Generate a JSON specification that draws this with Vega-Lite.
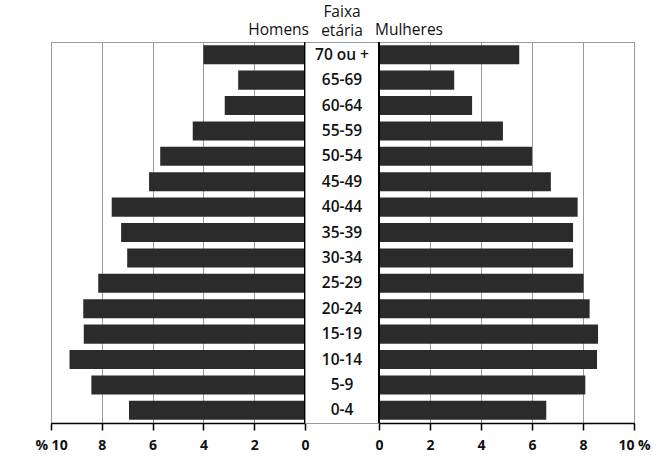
{
  "$schema": "https://vega.github.io/schema/vega-lite/v6.json",
  "background": "white",
  "padding": {"left": 34, "top": 4, "right": 5, "bottom": 5},
  "spacing": 0,
  "bounds": "flush",
  "data": {
    "values": [
      {"faixa": "70 ou +", "homens": 4.0, "mulheres": 5.5},
      {"faixa": "65-69", "homens": 2.63, "mulheres": 2.95},
      {"faixa": "60-64", "homens": 3.16, "mulheres": 3.65},
      {"faixa": "55-59", "homens": 4.42, "mulheres": 4.86},
      {"faixa": "50-54", "homens": 5.7, "mulheres": 6.0},
      {"faixa": "45-49", "homens": 6.14, "mulheres": 6.74},
      {"faixa": "40-44", "homens": 7.61, "mulheres": 7.79},
      {"faixa": "35-39", "homens": 7.24, "mulheres": 7.61},
      {"faixa": "30-34", "homens": 7.0, "mulheres": 7.61},
      {"faixa": "25-29", "homens": 8.14, "mulheres": 8.02},
      {"faixa": "20-24", "homens": 8.73, "mulheres": 8.26},
      {"faixa": "15-19", "homens": 8.71, "mulheres": 8.59},
      {"faixa": "10-14", "homens": 9.27, "mulheres": 8.55},
      {"faixa": "5-9", "homens": 8.41, "mulheres": 8.09},
      {"faixa": "0-4", "homens": 6.93, "mulheres": 6.56}
    ]
  },
  "config": {
    "view": {"stroke": "#999", "strokeWidth": 1},
    "title": {"font": "Open Sans", "fontSize": 15.5, "fontWeight": 500, "color": "#111", "offset": 3,
              "subtitleFont": "Open Sans", "subtitleFontSize": 15.5, "subtitleFontWeight": 500, "subtitleColor": "#111", "subtitlePadding": 0},
    "axis": {
      "labelFont": "Open Sans", "labelFontWeight": "bold", "labelFontSize": 14, "labelColor": "#111",
      "domainColor": "black", "domainWidth": 1.5, "tickColor": "black", "tickWidth": 1.5, "tickSize": 7,
      "gridColor": "#999", "gridWidth": 1, "labelPadding": 8, "labelFlush": false, "labelOverlap": false
    }
  },
  "hconcat": [
    {
      "width": 254,
      "height": 381,
      "title": {"text": "Homens", "anchor": "end"},
      "layer": [
        {
          "mark": {"type": "bar", "color": "#2b2b2b"},
          "encoding": {
            "y": {"field": "faixa", "type": "nominal", "sort": null, "axis": null, "scale": {"paddingInner": 0.25, "paddingOuter": 0.125}},
            "x": {
              "field": "homens", "type": "quantitative",
              "scale": {"domain": [0, 10], "reverse": true},
              "axis": {
                "title": null, "values": [0, 2, 4, 6, 8, 10], "grid": true,
                "labelExpr": "datum.value == 10 ? '% 10' : datum.label",
                "encode": {"labels": {"update": {"dx": {"signal": "datum.value === 10 ? -8 : 0"}}}}
              }
            }
          }
        },
        {
          "mark": {"type": "rule", "color": "black", "strokeWidth": 2},
          "encoding": {"x": {"datum": 0}}
        }
      ]
    },
    {
      "width": 74,
      "height": 381,
      "title": {"text": "Faixa", "subtitle": "etária", "anchor": "middle"},
      "mark": {"type": "text", "font": "Open Sans", "fontWeight": 600, "fontSize": 15.5, "color": "#111"},
      "encoding": {
        "y": {"field": "faixa", "type": "nominal", "sort": null, "axis": null, "scale": {"paddingInner": 0.25, "paddingOuter": 0.125}},
        "text": {"field": "faixa"}
      }
    },
    {
      "width": 255,
      "height": 381,
      "title": {"text": "Mulheres", "anchor": "start"},
      "layer": [
        {
          "mark": {"type": "bar", "color": "#2b2b2b"},
          "encoding": {
            "y": {"field": "faixa", "type": "nominal", "sort": null, "axis": null, "scale": {"paddingInner": 0.25, "paddingOuter": 0.125}},
            "x": {
              "field": "mulheres", "type": "quantitative",
              "scale": {"domain": [0, 10]},
              "axis": {
                "title": null, "values": [0, 2, 4, 6, 8, 10], "grid": true,
                "labelExpr": "datum.value == 10 ? '10 %' : datum.label",
                "encode": {"labels": {"update": {"dx": {"signal": "datum.value === 10 ? 10 : 0"}}}}
              }
            }
          }
        },
        {
          "mark": {"type": "rule", "color": "black", "strokeWidth": 2},
          "encoding": {"x": {"datum": 0}}
        }
      ]
    }
  ]
}
